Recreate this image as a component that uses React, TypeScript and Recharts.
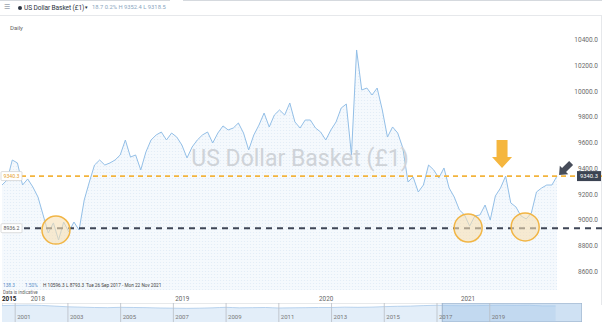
import React from 'react';
import {
  ComposedChart,
  Area,
  AreaChart,
  XAxis,
  YAxis,
  ReferenceLine,
  ReferenceDot,
  ReferenceArea,
} from 'recharts';

// Biweekly closes, 26 Sep 2017 - 22 Nov 2021
const basketValues = [
  9271, 9310, 9465, 9442, 9271, 9318, 9256, 9178, 9039, 8899,
  8977, 8845, 8984, 8907, 8984, 8922, 9155, 9295, 9426, 9465,
  9426, 9442, 9465, 9504, 9620, 9488, 9504, 9388, 9527, 9620,
  9659, 9682, 9620, 9674, 9643, 9581, 9481, 9566, 9620, 9659,
  9682, 9597, 9674, 9729, 9698, 9713, 9752, 9674, 9543, 9659,
  9736, 9829, 9721, 9814, 9853, 9814, 9907, 9760, 9713, 9775,
  9775, 9713, 9682, 9620, 9698, 9760, 9868, 9899, 9504, 10318,
  10008, 10023, 9969, 10023, 9853, 9643, 9721, 9674, 9558, 9295,
  9333, 9217, 9271, 9426, 9388, 9326, 9403, 9248, 9178, 9078,
  9039, 8953, 9031, 9039, 9116, 9000, 9186, 9248, 9340, 9132,
  9101, 9031, 9008, 9054, 9217, 9248, 9271, 9271, 9340.3,
];

const resistanceLevel = 9340.3;
const supportLevel = 8936.2;
const yTicks = [8600, 8800, 9000, 9200, 9400, 9600, 9800, 10000, 10200, 10400];
const yearTickLabels = ['2015', '2018', '2019', '2020', '2021'];
const yearTickPositions = [0, 5.6, 33.7, 61.7, 89.3];

// support touches (index, level)
const supportTouchIdx = [10.5, 90.7, 101.8];
const supportTouchVal = [8922, 8938, 8946];

// navigator history (half-yearly)
const navYears = [
  2000.5, 2001, 2001.5, 2002, 2002.5, 2003, 2003.5, 2004, 2004.5, 2005, 2005.5,
  2006, 2006.5, 2007, 2007.5, 2008, 2008.5, 2009, 2009.5, 2010, 2010.5, 2011,
  2011.5, 2012, 2012.5, 2013, 2013.5, 2014, 2014.5, 2015, 2015.5, 2016, 2016.5,
  2017, 2017.5, 2018, 2018.5, 2019, 2019.5, 2020, 2020.5, 2021, 2021.5,
];
const navValues = [
  95, 97, 98, 96, 92, 88, 86, 84, 83, 85, 84,
  83, 81, 80, 79, 80, 82, 85, 82, 83, 84, 81,
  82, 83, 84, 84, 86, 85, 86, 89, 91, 92, 95,
  97, 95, 94, 95, 96, 97, 96, 97, 93, 93,
];
const navLabelYears = [2001, 2003, 2005, 2007, 2009, 2011, 2013, 2015, 2017, 2019];

const data = basketValues.map((v, i) => ({ i, v }));
const navData = navValues.map((v, k) => ({ yr: navYears[k], v }));

const FONT = 'Roboto, "Open Sans", sans-serif';

const YTick = (props: any) => {
  const { y, payload } = props;
  return (
    <text x={598} y={y} dy={2.5} textAnchor="end" fontSize={6.5} fill="#6a6a6a" fontFamily={FONT}>
      {Number(payload.value).toFixed(1)}
    </text>
  );
};

const XTick = (props: any) => {
  const { x, y, payload, index } = props;
  const k = yearTickPositions.indexOf(payload.value);
  const label = yearTickLabels[k >= 0 ? k : index];
  return (
    <text
      x={x}
      y={y}
      dy={11}
      textAnchor="start"
      fontSize={6.3}
      fill={label === '2015' ? '#222' : '#666'}
      fontWeight={label === '2015' ? 700 : 400}
      fontFamily={FONT}
    >
      {label}
    </text>
  );
};

const LeftBox = ({ viewBox, text, color }: any) => {
  const y = viewBox.y;
  return (
    <g>
      <rect x={1} y={y - 4.5} width={21} height={9} fill="#fff" stroke="#cfcfcf" strokeWidth={0.7} rx={1} />
      <text x={11.5} y={y} dy={2} textAnchor="middle" fontSize={5.2} fill={color} fontFamily={FONT}>
        {text}
      </text>
    </g>
  );
};

const ResistanceLabel = (props: any) => {
  const { viewBox } = props;
  const right = viewBox.x + viewBox.width;
  return (
    <g>
      <LeftBox viewBox={viewBox} text={resistanceLevel.toFixed(1)} color="#e6a12a" />
      <rect x={right - 25} y={viewBox.y - 5} width={24} height={10} fill="#3b4352" />
      <text x={right - 13} y={viewBox.y} dy={2.2} textAnchor="middle" fontSize={5.8} fill="#fff" fontFamily={FONT}>
        {resistanceLevel.toFixed(1)}
      </text>
    </g>
  );
};

const SupportLabel = (props: any) => (
  <LeftBox viewBox={props.viewBox} text={supportLevel.toFixed(1)} color="#555" />
);

const DownArrow = (props: any) => {
  const { cx, cy } = props;
  return (
    <polygon
      points={`${cx - 5.5},${cy - 28} ${cx + 5.5},${cy - 28} ${cx + 5.5},${cy - 11} ${cx + 10},${cy - 11} ${cx},${cy} ${cx - 10},${cy - 11} ${cx - 5.5},${cy - 11}`}
      fill="#f5b63e"
    />
  );
};

const DarkArrow = (props: any) => {
  const { cx, cy } = props;
  return (
    <g transform={`rotate(45 ${cx} ${cy})`}>
      <polygon
        points={`${cx - 2.8},${cy - 17} ${cx + 2.8},${cy - 17} ${cx + 2.8},${cy - 7} ${cx + 6},${cy - 7} ${cx},${cy} ${cx - 6},${cy - 7} ${cx - 2.8},${cy - 7}`}
        fill="#464c59"
      />
    </g>
  );
};

const NavLabel = (props: any) => {
  const { viewBox, value } = props;
  return (
    <text x={viewBox.x + 2} y={viewBox.y + viewBox.height - 3} fontSize={6} fill="#777" fontFamily={FONT}>
      {value}
    </text>
  );
};

const txt = (extra: React.CSSProperties): React.CSSProperties => ({
  position: 'absolute',
  fontFamily: FONT,
  whiteSpace: 'nowrap',
  lineHeight: 1,
  ...extra,
});

export default function App() {
  return (
    <div style={{ position: 'absolute', left: 0, top: 0, width: 602, height: 324, background: '#fff', overflow: 'hidden' }}>
      {/* header */}
      <div style={{ position: 'absolute', left: 0, top: 0, width: 170, height: 1, background: '#d5d9de' }} />
      <div style={{ position: 'absolute', left: 183, top: 0, width: 419, height: 1, background: '#d5d9de' }} />
      <div style={{ position: 'absolute', left: 0, top: 15, width: 602, height: 1, background: '#e6e8eb' }} />
      <div style={{ position: 'absolute', left: 601, top: 15, width: 1, height: 290, background: '#e6e8eb' }} />
      <div style={txt({ left: 4, top: 4, fontSize: 7, color: '#9aa3ad' })}>☰</div>
      <div style={{ position: 'absolute', left: 18, top: 5.5, width: 4, height: 4, borderRadius: 2, background: '#2b3442' }} />
      <div style={txt({ left: 24, top: 4.5, fontSize: 6.6, color: '#2a3240', letterSpacing: -0.1 })}>US Dollar Basket (£1)</div>
      <div style={txt({ left: 84, top: 5.5, fontSize: 4.5, color: '#2a3240' })}>▼</div>
      <div style={txt({ left: 92, top: 5, fontSize: 5.8, color: '#8aa6c0' })}>18.7 0.2% H 9352.4 L 9318.5</div>
      <div style={txt({ left: 10, top: 25, fontSize: 6, color: '#666' })}>Daily</div>

      {/* main chart */}
      <div style={{ position: 'absolute', left: 0, top: 0 }}>
        <ComposedChart width={602} height={324} data={data} margin={{ top: 30, right: 0, left: 0, bottom: 20 }}>
          <defs>
            <pattern id="dots" width="3" height="3" patternUnits="userSpaceOnUse">
              <rect width="3" height="3" fill="#f5f9fd" />
              <circle cx="1.5" cy="1.5" r="0.55" fill="#e0ebf7" />
            </pattern>
          </defs>
          <XAxis
            dataKey="i"
            type="number"
            domain={[-0.39, 116.75]}
            allowDataOverflow
            ticks={yearTickPositions}
            tick={<XTick />}
            axisLine={false}
            tickLine={false}
            height={14}
            tickMargin={0}
            tickSize={0}
            interval={0}
          />
          <YAxis
            orientation="right"
            mirror
            domain={[8457, 10473]}
            allowDataOverflow
            ticks={yTicks}
            tick={<YTick />}
            axisLine={false}
            tickLine={false}
            interval={0}
          />
          <Area
            type="linear"
            dataKey="v"
            stroke="#93bfe7"
            strokeWidth={1}
            fill="url(#dots)"
            fillOpacity={1}
            isAnimationActive={false}
            dot={false}
            activeDot={false}
          />
          <ReferenceLine
            y={resistanceLevel}
            stroke="#f3b43c"
            strokeWidth={1.8}
            strokeDasharray="5 4"
            label={<ResistanceLabel />}
          />
          <ReferenceLine
            y={supportLevel}
            stroke="#3f4656"
            strokeWidth={2}
            strokeDasharray="6 5"
            label={<SupportLabel />}
          />
          {supportTouchIdx.map((x, k) => (
            <ReferenceDot
              key={k}
              x={x}
              y={supportTouchVal[k]}
              r={14}
              fill="#f6dfb4"
              fillOpacity={0.6}
              stroke="#f1b545"
              strokeWidth={1.5}
            />
          ))}
          <ReferenceDot x={97.3} y={9403} r={1} shape={<DownArrow />} />
          <ReferenceDot x={108.4} y={9349} r={1} shape={<DarkArrow />} />
        </ComposedChart>
      </div>

      {/* watermark */}
      <div style={txt({ left: 0, width: 600, textAlign: 'center', top: 147, fontSize: 23, color: '#cfd3d8' })}>
        US Dollar Basket (£1)
      </div>

      {/* stats */}
      <div style={txt({ left: 3, top: 283.5, fontSize: 4.7, color: '#5b8fc7' })}>138.3</div>
      <div style={txt({ left: 25, top: 283.5, fontSize: 4.7, color: '#5b8fc7' })}>1.50%</div>
      <div style={txt({ left: 43, top: 283.5, fontSize: 4.7, color: '#444' })}>H 10596.3</div>
      <div style={txt({ left: 66, top: 283.5, fontSize: 4.7, color: '#444' })}>L 8793.3</div>
      <div style={txt({ left: 86, top: 283.5, fontSize: 4.7, color: '#444' })}>Tue 26 Sep 2017 - Mon 22 Nov 2021</div>
      <div style={txt({ left: 3, top: 291, fontSize: 4.6, color: '#666' })}>Data is indicative</div>

      {/* navigator */}
      <div style={{ position: 'absolute', left: 2, top: 303 }}>
        <AreaChart width={580} height={19} data={navData} margin={{ top: 0, right: 0, left: 0, bottom: 0 }}>
          <XAxis dataKey="yr" type="number" domain={[2000.5, 2022.5]} allowDataOverflow hide />
          <YAxis domain={[0, 110]} hide />
          <ReferenceArea x1={2000.5} x2={2022.5} fill="#ffffff" stroke="#cfd3d8" fillOpacity={0} />
          <Area
            type="monotone"
            dataKey="v"
            stroke="#a9c9ea"
            strokeWidth={0.8}
            fill="#e3eef9"
            fillOpacity={1}
            isAnimationActive={false}
            dot={false}
          />
          <ReferenceArea x1={2017.2} x2={2022.5} fill="#a8c8ea" fillOpacity={0.55} stroke="#9db3cc" />
          {navLabelYears.map((yr) => (
            <ReferenceLine key={yr} x={yr} stroke="#b9bec5" strokeWidth={0.8} label={<NavLabel value={String(yr)} />} />
          ))}
        </AreaChart>
      </div>
    </div>
  );
}
